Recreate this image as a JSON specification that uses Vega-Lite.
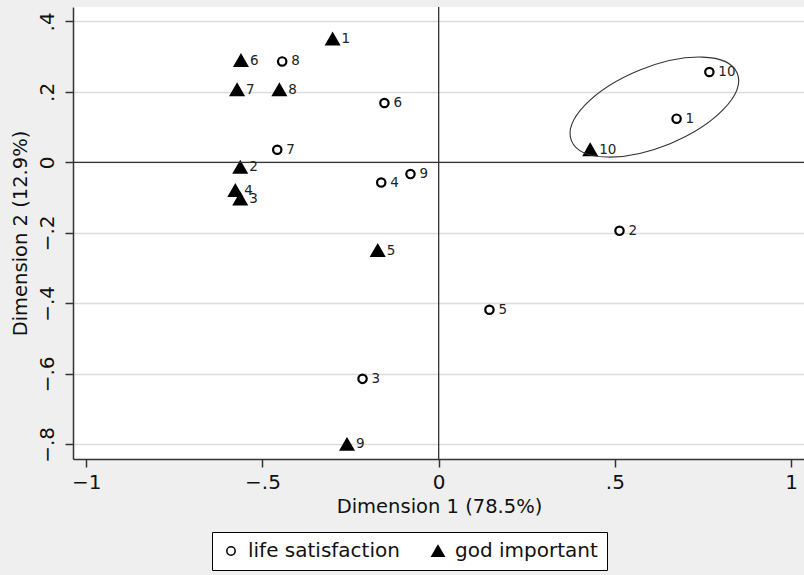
{
  "$schema": "https://vega.github.io/schema/vega-lite/v6.json",
  "width": 731,
  "height": 452,
  "autosize": "none",
  "padding": {"left": 73, "top": 7, "right": 0, "bottom": 116},
  "background": "#efefef",
  "config": {
    "font": "DejaVu Sans",
    "view": {"fill": "white", "stroke": null},
    "axis": {
      "domainColor": "#333333",
      "domainWidth": 1.5,
      "tickColor": "#333333",
      "tickWidth": 1.5,
      "tickSize": 8,
      "labelFontSize": 20,
      "labelColor": "#111111",
      "labelFlush": false,
      "labelOverlap": false,
      "titleFontSize": 19.5,
      "titleFontWeight": "normal",
      "titleColor": "#111111",
      "gridColor": "#dcdcdc",
      "gridWidth": 1.5
    }
  },
  "datasets": {
    "coords": [
      {"series": "life satisfaction", "lbl": "1", "x": 0.675, "y": 0.124},
      {"series": "life satisfaction", "lbl": "2", "x": 0.513, "y": -0.194},
      {"series": "life satisfaction", "lbl": "3", "x": -0.216, "y": -0.614},
      {"series": "life satisfaction", "lbl": "4", "x": -0.163, "y": -0.057},
      {"series": "life satisfaction", "lbl": "5", "x": 0.144, "y": -0.418},
      {"series": "life satisfaction", "lbl": "6", "x": -0.154, "y": 0.1685},
      {"series": "life satisfaction", "lbl": "7", "x": -0.458, "y": 0.036},
      {"series": "life satisfaction", "lbl": "8", "x": -0.444, "y": 0.2865},
      {"series": "life satisfaction", "lbl": "9", "x": -0.08, "y": -0.033},
      {"series": "life satisfaction", "lbl": "10", "x": 0.768, "y": 0.2565},
      {"series": "god important", "lbl": "1", "x": -0.301, "y": 0.35},
      {"series": "god important", "lbl": "2", "x": -0.563, "y": -0.014},
      {"series": "god important", "lbl": "3", "x": -0.563, "y": -0.104},
      {"series": "god important", "lbl": "4", "x": -0.577, "y": -0.08},
      {"series": "god important", "lbl": "5", "x": -0.173, "y": -0.25},
      {"series": "god important", "lbl": "6", "x": -0.561, "y": 0.289},
      {"series": "god important", "lbl": "7", "x": -0.572, "y": 0.206},
      {"series": "god important", "lbl": "8", "x": -0.452, "y": 0.206},
      {"series": "god important", "lbl": "9", "x": -0.26, "y": -0.8},
      {"series": "god important", "lbl": "10", "x": 0.43, "y": 0.036}
    ],
    "highlight": [
      {"x": 0.612, "y": 0.157}
    ]
  },
  "layer": [
    {
      "data": {"name": "coords"},
      "mark": {"type": "point", "filled": true, "stroke": "black", "strokeWidth": 2.2, "opacity": 1},
      "encoding": {
        "x": {
          "field": "x",
          "type": "quantitative",
          "scale": {"domain": [-1.0375, 1.0365], "nice": false, "zero": false},
          "axis": {
            "title": "Dimension 1 (78.5%)",
            "values": [-1, -0.5, 0, 0.5, 1],
            "grid": false,
            "labelExpr": "replace(replace(format(datum.value, '.1~f'), '-', '\u2212'), '0.', '.')",
            "labelBaseline": "alphabetic",
            "labelPadding": 21,
            "titleBaseline": "alphabetic",
            "titleY": 53,
            "titleX": 366
          }
        },
        "y": {
          "field": "y",
          "type": "quantitative",
          "scale": {"domain": [-0.8414, 0.4409], "nice": false, "zero": false},
          "axis": {
            "title": "Dimension 2 (12.9%)",
            "values": [-0.8, -0.6, -0.4, -0.2, 0, 0.2, 0.4],
            "grid": true,
            "labelExpr": "replace(replace(format(datum.value, '.1~f'), '-', '\u2212'), '0.', '.')",
            "labelAngle": 270,
            "labelAlign": "center",
            "labelBaseline": "alphabetic",
            "labelPadding": 12,
            "titleAngle": 270,
            "titleAlign": "center",
            "titleBaseline": "alphabetic",
            "titleX": -47,
            "titleY": 226
          }
        },
        "shape": {
          "field": "series",
          "type": "nominal",
          "scale": {"domain": ["life satisfaction", "god important"], "range": ["circle", "triangle-up"]},
          "legend": {
            "title": null,
            "orient": "none",
            "legendX": 139,
            "legendY": 525,
            "direction": "horizontal",
            "padding": 9,
            "strokeColor": "black",
            "fillColor": "white",
            "cornerRadius": 0,
            "labelFontSize": 20,
            "labelColor": "#111111",
            "labelOffset": 7,
            "columnPadding": 28,
            "symbolStrokeColor": "black",
            "symbolStrokeWidth": 1.5
          }
        },
        "fill": {
          "field": "series",
          "type": "nominal",
          "scale": {"domain": ["life satisfaction", "god important"], "range": ["transparent", "black"]}
        },
        "size": {
          "field": "series",
          "type": "nominal",
          "scale": {"domain": ["life satisfaction", "god important"], "range": [70, 150]}
        }
      }
    },
    {
      "data": {"values": [{}]},
      "mark": {"type": "rule", "color": "#333333", "strokeWidth": 1.3},
      "encoding": {"x": {"datum": 0}}
    },
    {
      "data": {"values": [{}]},
      "mark": {"type": "rule", "color": "#333333", "strokeWidth": 1.3},
      "encoding": {"y": {"datum": 0}}
    },
    {
      "data": {"name": "coords"},
      "mark": {"type": "text", "align": "left", "baseline": "middle", "dx": 9, "fontSize": 13.5, "color": "#222222"},
      "encoding": {
        "x": {"field": "x", "type": "quantitative"},
        "y": {"field": "y", "type": "quantitative"},
        "text": {"field": "lbl"}
      }
    },
    {
      "data": {"name": "highlight"},
      "mark": {
        "type": "point",
        "filled": false,
        "stroke": "#333333",
        "strokeWidth": 1.1,
        "opacity": 1,
        "size": 32041,
        "shape": "M0.9259,-0.3778 C1.0187,-0.1502 0.6795,0.2033 0.1681,0.412 C-0.3433,0.6207 -0.8331,0.6054 -0.9259,0.3778 C-1.0187,0.1502 -0.6795,-0.2033 -0.1681,-0.412 C0.3433,-0.6207 0.8331,-0.6054 0.9259,-0.3778 Z"
      },
      "encoding": {
        "x": {"field": "x", "type": "quantitative"},
        "y": {"field": "y", "type": "quantitative"}
      }
    }
  ]
}
